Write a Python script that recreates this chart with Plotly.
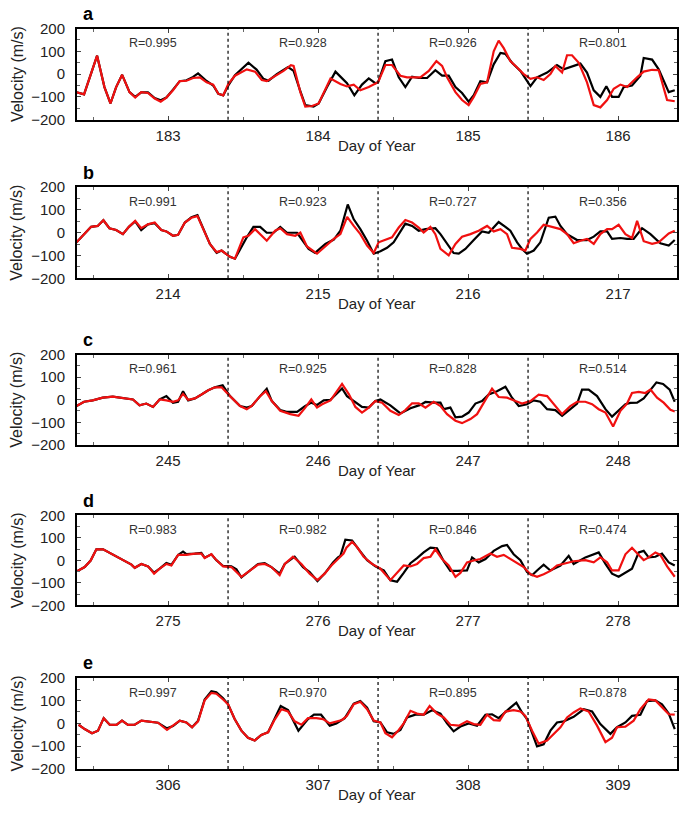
import plotly.graph_objs as go

# первый день (подпись) в каждой панели и коэффициенты корреляции
days0 = [183, 214, 245, 275, 306]
letters = ["a", "b", "c", "d", "e"]
r_values = [
    ["R=0.995", "R=0.928", "R=0.926", "R=0.801"],
    ["R=0.991", "R=0.923", "R=0.727", "R=0.356"],
    ["R=0.961", "R=0.925", "R=0.828", "R=0.514"],
    ["R=0.983", "R=0.982", "R=0.846", "R=0.474"],
    ["R=0.997", "R=0.970", "R=0.895", "R=0.878"],
]

# панель a
a_black_t = [182.386, 182.44, 182.527, 182.576, 182.616, 182.654, 182.694, 182.743, 182.781, 182.821,
             182.866, 182.911, 182.951, 182.989, 183.033, 183.078, 183.123, 183.167, 183.2, 183.257,
             183.301, 183.335, 183.368, 183.402, 183.446, 183.536, 183.59, 183.636, 183.67, 183.725,
             183.80, 183.837, 183.88, 183.915, 183.97, 184.004, 184.06, 184.116, 184.149, 184.193,
             184.242, 184.293, 184.338, 184.382, 184.4, 184.449, 184.493, 184.538, 184.582, 184.627,
             184.671, 184.727, 184.782, 184.827, 184.871, 184.916, 184.96, 185.004, 185.038, 185.082,
             185.127, 185.171, 185.216, 185.249, 185.293, 185.349, 185.416, 185.46, 185.527, 185.593,
             185.638, 185.704, 185.749, 185.793, 185.838, 185.882, 185.922, 185.96, 186.004, 186.038,
             186.093, 186.149, 186.171, 186.227, 186.271, 186.338, 186.378]
a_black_v = [-79, -89, 81, -57, -129, -57, -3, -79, -100, -80,
             -80, -105, -115, -103, -68, -31, -27, -12, 3, -30,
             -50, -86, -93, -50, -5, 50, 20, -21, -29, 0,
             31, 14, -71, -136, -143, -129, -57, 11, -11, -40,
             -93, -46, -19, -40, -36, 57, 64, -14, -57, -11,
             -17, -17, 17, -7, -7, -57, -83, -121, -93, -31,
             -36, 43, 93, 89, 50, 14, -53, -14, 7, 40,
             21, 36, 46, 7, -71, -100, -53, -100, -100, -57,
             -50, -7, 71, 64, 21, -79, -71]
a_red_t = [182.386, 182.44, 182.527, 182.576, 182.616, 182.654, 182.694, 182.743, 182.781, 182.821,
           182.866, 182.911, 182.951, 182.989, 183.033, 183.078, 183.123, 183.167, 183.212, 183.257,
           183.301, 183.335, 183.368, 183.402, 183.446, 183.525, 183.58, 183.625, 183.658, 183.714,
           183.77, 183.819, 183.837, 183.882, 183.915, 183.96, 184.004, 184.083, 184.149, 184.193,
           184.238, 184.282, 184.338, 184.4, 184.449, 184.493, 184.549, 184.593, 184.638, 184.682,
           184.738, 184.789, 184.827, 184.86, 184.916, 184.96, 185.004, 185.038, 185.082, 185.127,
           185.171, 185.204, 185.238, 185.282, 185.327, 185.371, 185.416, 185.46, 185.504, 185.549,
           185.582, 185.627, 185.66, 185.693, 185.738, 185.793, 185.838, 185.882, 185.927, 185.971,
           186.016, 186.06, 186.127, 186.171, 186.227, 186.271, 186.327, 186.378]
a_red_v = [-79, -89, 81, -57, -129, -57, -3, -79, -103, -79,
           -83, -107, -121, -103, -71, -31, -29, -17, -14, -36,
           -46, -86, -93, -43, -7, 21, 11, -26, -31, -7,
           14, 39, 36, -79, -143, -140, -129, -19, -43, -54,
           -46, -71, -57, -36, 40, 40, -7, -14, -14, -14,
           14, 57, 36, -14, -79, -114, -136, -100, -43, -36,
           100, 147, 114, 57, 29, 0, -21, -14, -26, 0,
           36, 7, 83, 83, 50, -36, -136, -146, -114, -64,
           -46, -57, -14, 11, 19, 17, -114, -119]

# панель b
b_black_t = [213.39, 213.487, 213.531, 213.569, 213.609, 213.654, 213.699, 213.739, 213.781, 213.821,
             213.866, 213.911, 213.955, 213.989, 214.033, 214.067, 214.112, 214.156, 214.196, 214.234,
             214.279, 214.324, 214.357, 214.413, 214.446, 214.525, 214.569, 214.614, 214.658, 214.703,
             214.748, 214.793, 214.86, 214.937, 214.98, 215.049, 215.105, 215.149, 215.198, 215.238,
             215.282, 215.327, 215.371, 215.416, 215.46, 215.504, 215.582, 215.627, 215.671, 215.716,
             215.782, 215.816, 215.86, 215.904, 215.938, 215.982, 216.038, 216.093, 216.138, 216.204,
             216.249, 216.282, 216.327, 216.36, 216.393, 216.438, 216.482, 216.538, 216.582, 216.616,
             216.66, 216.727, 216.793, 216.838, 216.882, 216.927, 216.96, 217.016, 217.06, 217.104,
             217.16, 217.216, 217.282, 217.338, 217.378]
b_black_v = [-42, 26, 30, 55, 20, 12, -6, 26, 50, 12,
             37, 42, 12, 6, -13, -9, 45, 68, 77, 16,
             -49, -88, -78, -106, -114, -20, 26, 26, 0, 0,
             26, 0, 0, -71, -88, -49, -30, 9, 124, 59,
             16, -35, -92, -81, -66, -42, 40, 30, 9, 16,
             20, -6, -49, -89, -92, -71, -32, 6, 0, 47,
             26, 9, -42, -71, -92, -78, -42, 66, 71, 30,
             -6, -32, -32, -17, 6, 6, -27, -23, -27, -27,
             20, -6, -46, -56, -32]
b_red_t = [213.39, 213.487, 213.531, 213.569, 213.609, 213.654, 213.699, 213.739, 213.781, 213.821,
           213.866, 213.911, 213.955, 213.989, 214.033, 214.067, 214.112, 214.156, 214.196, 214.234,
           214.279, 214.324, 214.357, 214.413, 214.446, 214.502, 214.536, 214.58, 214.614, 214.658,
           214.714, 214.748, 214.793, 214.848, 214.882, 214.926, 214.993, 215.038, 215.105, 215.149,
           215.194, 215.238, 215.282, 215.327, 215.371, 215.404, 215.449, 215.493, 215.538, 215.582,
           215.627, 215.671, 215.704, 215.749, 215.782, 215.816, 215.871, 215.916, 215.96, 216.016,
           216.071, 216.127, 216.171, 216.216, 216.26, 216.293, 216.349, 216.382, 216.416, 216.46,
           216.504, 216.56, 216.616, 216.66, 216.704, 216.749, 216.793, 216.838, 216.882, 216.927,
           216.96, 217.004, 217.049, 217.093, 217.127, 217.171, 217.227, 217.271, 217.338, 217.378]
b_red_v = [-42, 26, 30, 55, 20, 12, -6, 26, 52, 20,
           37, 45, 12, 6, -13, -9, 45, 66, 73, 16,
           -49, -85, -78, -106, -114, -20, -13, 16, -6, -35,
           9, 20, -6, -13, 1, -60, -92, -66, -27, -6,
           70, 30, -6, -56, -89, -42, -32, -20, 23, 56,
           45, 23, 1, 26, -6, -71, -99, -49, -17, -6,
           9, 30, 6, 16, -6, -66, -71, -78, -27, 1,
           35, 26, 16, -6, -46, -35, -27, -49, -6, 16,
           16, 35, -6, -23, 52, -37, -49, -42, -3, 9]

# панель c
c_black_t = [244.39, 244.44, 244.498, 244.565, 244.632, 244.699, 244.766, 244.81, 244.855, 244.9,
             244.944, 244.989, 245.033, 245.067, 245.1, 245.134, 245.179, 245.223, 245.268, 245.312,
             245.364, 245.413, 245.48, 245.525, 245.558, 245.614, 245.658, 245.692, 245.748, 245.79,
             245.86, 245.915, 245.955, 245.993, 246.038, 246.083, 246.127, 246.16, 246.193, 246.249,
             246.293, 246.338, 246.382, 246.416, 246.482, 246.549, 246.616, 246.682, 246.716, 246.771,
             246.816, 246.838, 246.882, 246.916, 246.96, 247.004, 247.049, 247.093, 247.138, 247.193,
             247.249, 247.293, 247.338, 247.393, 247.438, 247.482, 247.527, 247.582, 247.627, 247.682,
             247.727, 247.76, 247.804, 247.86, 247.916, 247.96, 248.004, 248.049, 248.082, 248.127,
             248.171, 248.216, 248.256, 248.3, 248.344, 248.378]
c_black_v = [-28, -9, -3, 9, 14, 9, 1, -25, -17, -32,
             1, 16, -14, -9, 38, -3, 6, 23, 42, 55,
             64, 16, -28, -35, -28, 16, 49, -6, -46, -54,
             -54, -28, -13, -23, -3, 0, 30, 50, 16, -13,
             -32, -35, -6, 1, -25, -61, -38, -23, -10, -13,
             -13, -42, -35, -78, -75, -57, -17, -6, 23, 38,
             58, 9, -28, -20, -3, -9, -42, -46, -71, -42,
             -17, 45, 45, 16, -42, -75, -46, -20, -14, -13,
             6, 45, 77, 70, 45, -9]
c_red_t = [244.39, 244.44, 244.498, 244.565, 244.632, 244.699, 244.766, 244.81, 244.855, 244.9,
           244.944, 244.989, 245.033, 245.067, 245.1, 245.134, 245.179, 245.223, 245.268, 245.312,
           245.357, 245.413, 245.48, 245.525, 245.558, 245.614, 245.652, 245.692, 245.748, 245.815,
           245.87, 245.915, 245.955, 245.993, 246.027, 246.083, 246.127, 246.16, 246.205, 246.249,
           246.293, 246.338, 246.382, 246.427, 246.482, 246.538, 246.582, 246.627, 246.671, 246.716,
           246.771, 246.816, 246.86, 246.916, 246.96, 247.016, 247.06, 247.104, 247.16, 247.204,
           247.26, 247.316, 247.36, 247.416, 247.471, 247.527, 247.582, 247.627, 247.682, 247.727,
           247.782, 247.827, 247.871, 247.916, 247.967, 248.016, 248.06, 248.093, 248.138, 248.182,
           248.216, 248.26, 248.304, 248.349, 248.378]
c_red_v = [-28, -9, -3, 9, 14, 9, 1, -25, -17, -32,
           1, -3, -9, -3, 26, 0, 6, 23, 42, 55,
           55, 16, -28, -42, -28, 16, 38, -6, -49, -64,
           -71, -35, 1, -35, -20, -3, 38, 70, 25, -32,
           -57, -35, -6, -13, -49, -68, -46, -16, -16, -35,
           -9, -28, -64, -93, -104, -86, -64, -13, 49, 12,
           9, -6, -17, -6, 23, 16, -28, -64, -28, -9,
           -9, -20, -42, -57, -119, -49, -17, 30, 35, 30,
           45, 9, -13, -45, -52]

# панель d
d_black_t = [274.396, 274.444, 274.484, 274.522, 274.567, 274.622, 274.689, 274.756, 274.778, 274.822,
             274.867, 274.907, 274.944, 274.989, 275.022, 275.067, 275.1, 275.122, 275.178, 275.222,
             275.244, 275.289, 275.322, 275.367, 275.422, 275.456, 275.489, 275.544, 275.6, 275.644,
             275.689, 275.744, 275.778, 275.844, 275.9, 275.944, 275.996, 276.044, 276.1, 276.133,
             276.149, 276.182, 276.227, 276.271, 276.327, 276.382, 276.438, 276.482, 276.527, 276.571,
             276.616, 276.66, 276.704, 276.749, 276.793, 276.838, 276.882, 276.927, 276.993, 277.027,
             277.071, 277.116, 277.171, 277.227, 277.26, 277.304, 277.349, 277.393, 277.427, 277.46,
             277.504, 277.549, 277.616, 277.671, 277.704, 277.782, 277.871, 277.916, 277.96, 278.004,
             278.049, 278.093, 278.138, 278.171, 278.204, 278.249, 278.293, 278.338, 278.378]
d_black_v = [-47, -30, -1, 49, 49, 30, 6, -19, -33, -16,
             -27, -55, -37, -12, -20, 24, 39, 28, 30, 33,
             12, 27, 1, -25, -27, -40, -76, -45, -16, -12,
             -30, -59, -16, 16, -30, -52, -92, -59, -9, 13,
             20, 92, 88, 49, 1, -27, -45, -88, -95, -56,
             -13, 10, 35, 56, 53, -4, -47, -47, -45, 13,
             -9, 6, 42, 63, 68, 27, 1, -52, -66, -45,
             -19, -45, -23, 20, -16, 13, 35, -16, -59, -73,
             -56, -37, 35, 42, 13, 16, 30, -9, -23]
d_red_t = [274.396, 274.444, 274.484, 274.522, 274.567, 274.622, 274.689, 274.756, 274.778, 274.822,
           274.867, 274.907, 274.944, 274.989, 275.022, 275.067, 275.122, 275.178, 275.222, 275.244,
           275.289, 275.322, 275.367, 275.422, 275.489, 275.544, 275.6, 275.644, 275.689, 275.744,
           275.778, 275.833, 275.889, 275.944, 275.996, 276.044, 276.089, 276.133, 276.17, 276.189,
           276.227, 276.26, 276.304, 276.36, 276.416, 276.482, 276.527, 276.571, 276.616, 276.66,
           276.704, 276.749, 276.782, 276.827, 276.871, 276.916, 276.949, 276.993, 277.038, 277.082,
           277.149, 277.193, 277.238, 277.282, 277.327, 277.371, 277.416, 277.46, 277.504, 277.549,
           277.593, 277.638, 277.704, 277.782, 277.838, 277.882, 277.927, 277.96, 278.004, 278.049,
           278.093, 278.138, 278.171, 278.204, 278.249, 278.282, 278.327, 278.378]
d_red_v = [-47, -30, -1, 49, 49, 30, 6, -19, -33, -16,
           -27, -59, -37, -16, -23, 24, 24, 30, 30, 10,
           27, 1, -27, -30, -73, -45, -19, -16, -30, -66,
           -16, 16, -16, -59, -88, -59, -23, 6, 30, 56,
           82, 59, 16, -16, -37, -88, -56, -23, -27, -16,
           10, 16, 49, 6, -23, -73, -56, -9, -1, 6,
           30, 16, 24, 6, -13, -30, -62, -73, -62, -47,
           -23, -16, -4, 1, -9, 13, -9, -45, -45, 27,
           56, 24, 1, 13, 35, 24, -27, -73]

# панель e
e_black_t = [305.404, 305.444, 305.493, 305.533, 305.571, 305.611, 305.656, 305.693, 305.733, 305.778,
             305.822, 305.878, 305.933, 305.993, 306.033, 306.078, 306.122, 306.16, 306.2, 306.244,
             306.289, 306.322, 306.367, 306.4, 306.444, 306.489, 306.533, 306.578, 306.622, 306.667,
             306.707, 306.751, 306.8, 306.869, 306.933, 306.973, 307.02, 307.078, 307.122, 307.178,
             307.238, 307.282, 307.327, 307.371, 307.416, 307.46, 307.504, 307.549, 307.593, 307.649,
             307.704, 307.76, 307.816, 307.86, 307.904, 307.949, 308.004, 308.06, 308.116, 308.16,
             308.204, 308.249, 308.282, 308.322, 308.36, 308.393, 308.427, 308.46, 308.504, 308.549,
             308.593, 308.638, 308.704, 308.771, 308.827, 308.882, 308.949, 308.993, 309.049, 309.093,
             309.149, 309.193, 309.249, 309.293, 309.338, 309.378]
e_black_v = [-6, -25, -43, -32, 23, -6, -7, 12, -7, -6,
             12, 9, 3, -22, -12, 12, 4, -17, 12, 105,
             141, 137, 110, 84, 19, -32, -63, -75, -51, -39,
             15, 76, 58, -32, 19, 38, 38, -10, 0, 23,
             87, 98, 69, 9, 4, -39, -46, -29, 26, 38,
             38, 58, 43, 0, -35, -14, 0, -10, 38, 40,
             23, 52, 69, 91, 48, 19, -46, -101, -92, -32,
             4, 9, 29, 62, 52, -3, -46, -17, 4, 33,
             38, 98, 101, 84, 43, -25]
e_red_t = [305.404, 305.444, 305.493, 305.533, 305.571, 305.611, 305.656, 305.693, 305.733, 305.778,
           305.822, 305.878, 305.933, 305.993, 306.033, 306.078, 306.122, 306.16, 306.2, 306.244,
           306.289, 306.322, 306.367, 306.4, 306.444, 306.489, 306.533, 306.578, 306.622, 306.667,
           306.707, 306.756, 306.8, 306.844, 306.889, 306.933, 306.989, 307.033, 307.078, 307.122,
           307.16, 307.193, 307.238, 307.282, 307.327, 307.371, 307.416, 307.449, 307.493, 307.538,
           307.571, 307.616, 307.66, 307.704, 307.744, 307.793, 307.838, 307.882, 307.938, 307.993,
           308.038, 308.082, 308.127, 308.171, 308.211, 308.249, 308.304, 308.349, 308.382, 308.427,
           308.471, 308.527, 308.571, 308.616, 308.66, 308.704, 308.749, 308.804, 308.86, 308.916,
           308.96, 308.993, 309.049, 309.104, 309.149, 309.204, 309.249, 309.293, 309.338, 309.378]
e_red_v = [-6, -25, -43, -32, 23, -6, -7, 12, -7, -6,
           12, 9, 3, -29, -10, 12, 4, -17, 9, 101,
           134, 130, 105, 84, 19, -32, -63, -75, -51, -39,
           12, 62, 52, 9, -6, 23, 23, 19, 0, 9,
           15, 33, 84, 95, 62, 12, 4, -43, -61, -29,
           0, 55, 43, 38, 76, 43, 26, -6, -10, 9,
           -3, -6, 38, 14, 12, 52, 58, 52, 33, -32,
           -89, -75, -46, -17, 26, 48, 66, 52, -10, -82,
           -63, -17, -14, 12, 62, 105, 101, 72, 40, 38]

panels = [
    (a_black_t, a_black_v, a_red_t, a_red_v),
    (b_black_t, b_black_v, b_red_t, b_red_v),
    (c_black_t, c_black_v, c_red_t, c_red_v),
    (d_black_t, d_black_v, d_red_t, d_red_v),
    (e_black_t, e_black_v, e_red_t, e_red_v),
]

W, H = 685, 820
FONT = "Arial, Liberation Sans, sans-serif"
# положение панелей в пикселях
tops = [20, 182, 353, 517, 683]
bottoms = [113, 275, 445, 609, 776]
x_left, x_right = 77, 677

fig = go.Figure()
layout = dict(width=W, height=H, margin=dict(l=0, r=0, t=0, b=0),
              paper_bgcolor="white", plot_bgcolor="white", showlegend=False,
              font=dict(family=FONT, size=15, color="#222"))
shapes = []
annotations = []

for i, (bt, bv, rt, rv) in enumerate(panels):
    n = "" if i == 0 else str(i + 1)
    d0 = days0[i]
    fig.add_trace(go.Scatter(x=bt, y=bv, mode="lines", xaxis="x" + n, yaxis="y" + n,
                             line=dict(color="black", width=2.2)))
    fig.add_trace(go.Scatter(x=rt, y=rv, mode="lines", xaxis="x" + n, yaxis="y" + n,
                             line=dict(color="#f01010", width=2.2)))
    layout["xaxis" + n] = dict(
        domain=[x_left / W, x_right / W], anchor="y" + n,
        range=[d0 - 0.607, d0 + 3.393], tickmode="linear", tick0=d0, dtick=1,
        ticks="inside", ticklen=4, tickcolor="#444", mirror="ticks",
        showline=True, linecolor="black", linewidth=2, showgrid=False, zeroline=False,
        minor=dict(dtick=0.5, tick0=d0 + 0.5, ticks="inside", ticklen=3, tickcolor="#666"),
        tickfont=dict(size=15, color="#222"), ticklabelstandoff=1)
    layout["yaxis" + n] = dict(
        domain=[1 - bottoms[i] / H, 1 - tops[i] / H], anchor="x" + n,
        range=[-200, 200], tickvals=[-200, -100, 0, 100, 200],
        ticks="inside", ticklen=4, tickcolor="#444", mirror="ticks",
        showline=True, linecolor="black", linewidth=2, showgrid=False, zeroline=False,
        minor=dict(tickvals=[-150, -50, 50, 150], ticks="inside", ticklen=3, tickcolor="#666"),
        tickfont=dict(size=15, color="#222"), ticklabelstandoff=7)
    # пунктирные границы суток
    for k in range(3):
        shapes.append(dict(type="line", xref="x" + n, yref="y" + n + " domain",
                           x0=d0 + 0.4 + k, x1=d0 + 0.4 + k, y0=0, y1=1,
                           line=dict(color="black", width=1.2, dash="dot")))
    for k in range(4):
        annotations.append(dict(x=d0 - 0.1 + k, y=135, xref="x" + n, yref="y" + n,
                                text=r_values[i][k], showarrow=False,
                                font=dict(size=12.5, color="#333")))
    annotations.append(dict(x=81 / W, y=1 - (tops[i] - 15) / H, xref="paper", yref="paper",
                            text="<b>" + letters[i] + "</b>", showarrow=False,
                            xanchor="left", yanchor="middle",
                            font=dict(size=18, color="black")))
    annotations.append(dict(x=(x_left + x_right) / 2 / W, y=1 - (bottoms[i] + 26) / H,
                            xref="paper", yref="paper", text="Day of Year", showarrow=False,
                            yanchor="middle", font=dict(size=15, color="#222")))
    annotations.append(dict(x=17 / W, y=1 - (tops[i] + bottoms[i]) / 2 / H,
                            xref="paper", yref="paper", text="Velocity (m/s)", showarrow=False,
                            textangle=-90, xanchor="center", yanchor="middle",
                            font=dict(size=16, color="#222")))

layout["shapes"] = shapes
layout["annotations"] = annotations
fig.update_layout(**layout)
# убираем отступ страницы, чтобы рисунок стоял в углу окна
fig.write_html("out.html", post_script="document.body.style.margin='0px';",
               config={"displayModeBar": False})
